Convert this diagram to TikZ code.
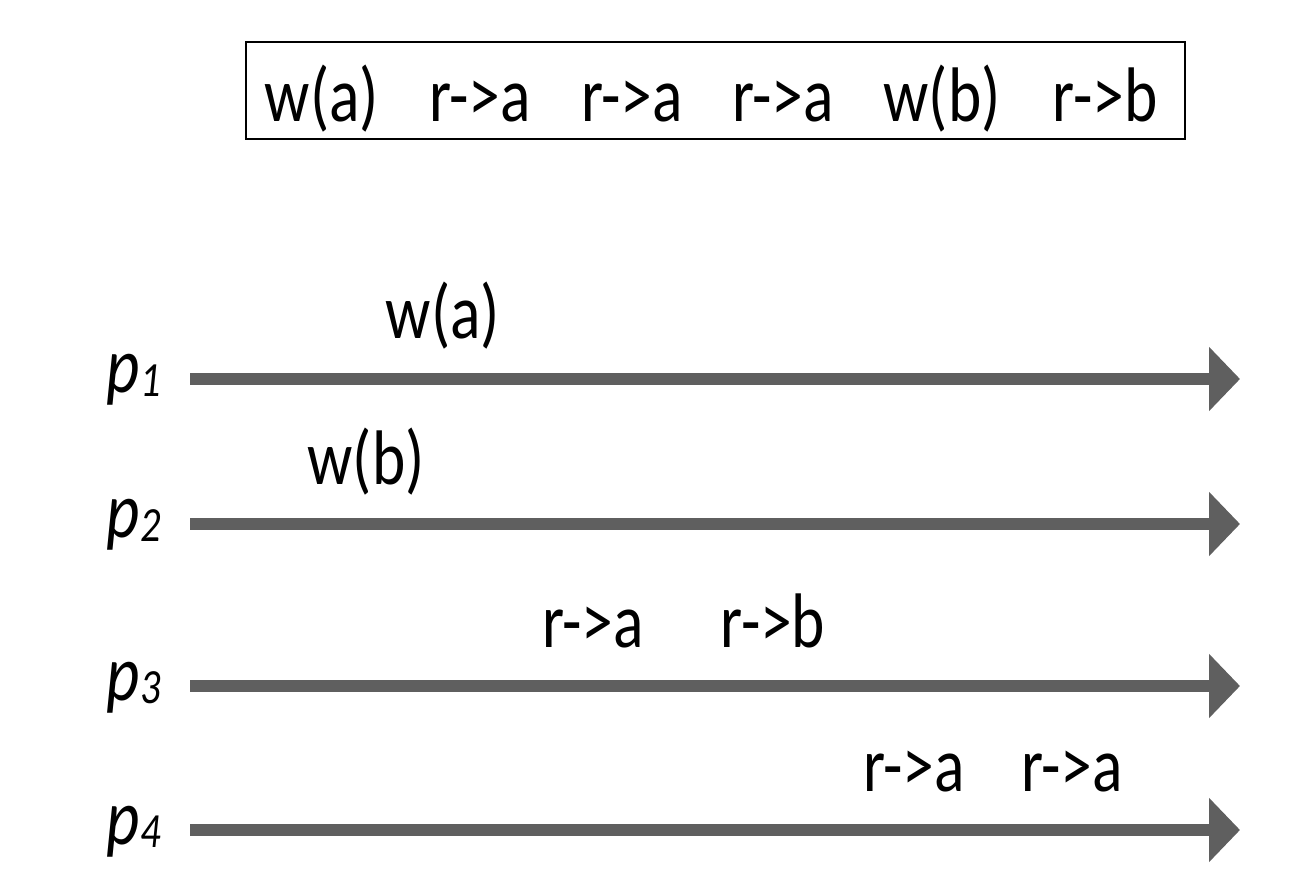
\documentclass[tikz,border=0pt]{standalone}
\usepackage{fontspec}
\setmainfont{Carlito}[FakeStretch=0.82]
\usepackage{tikz}
\usetikzlibrary{positioning,calc,arrows.meta}
\definecolor{timegray}{RGB}{95,95,95}

\newcommand{\procname}[1]{\textit{p}\raisebox{-0.1ex}{\fontsize{28}{30}\selectfont\itshape #1}}

\begin{document}
\begin{tikzpicture}[
	% Trục thời gian của mỗi tiến trình
	timeline/.style={
		draw=timegray, line width=6.8pt,
		-{Triangle[length=0.62cm, width=1.25cm]}
	},
	% Nhãn tiến trình p_i
	plabel/.style={
		anchor=base east, inner sep=0pt, font=\fontsize{45}{47}\selectfont
	},
	% Các thao tác đọc/ghi
	op/.style={
		anchor=base, inner sep=0pt, font=\fontsize{44}{46}\selectfont
	}
	]
	
	\useasboundingbox (0,0) rectangle (26.2,17.8);
	
	% --- 1. THỨ TỰ TOÀN CỤC ---
	\node[draw=black, thick, minimum width=18.78cm, minimum height=1.94cm,
	inner sep=0pt] (seq) at (14.31, 15.99) {};
	\foreach \x/\txt [count=\i] in {6.44/w(a), 9.6/r->a, 12.64/r->a,
		15.66/r->a, 18.84/w(b), 22.1/r->b} {
		\node[op] (s\i) at (\x, 15.36) {\txt};
	}
	
	% --- 2. CÁC TIẾN TRÌNH ---
	\foreach \y [count=\i] in {10.22, 7.32, 4.08, 1.2} {
		\coordinate (start\i) at (3.8, \y);
		\coordinate (end\i) at (24.8, \y);
		\draw[timeline] (start\i) -- (end\i);
		\node[plabel] (p\i) at (3.22, \y-0.28) {\procname{\i}};
	}
	
	% --- 3. THAO TÁC TRÊN TRỤC ---
	\node[op] (wa) at ($(start1)+(5.06,0.8)$) {w(a)};
	\node[op] (wb) at ($(start2)+(3.52,0.78)$) {w(b)};
	\node[op] (ra3) at ($(start3)+(8.06,0.78)$) {r->a};
	\node[op] (rb3) at ($(start3)+(11.66,0.78)$) {r->b};
	\node[op] (ra4) at ($(start4)+(14.48,0.78)$) {r->a};
	\node[op] (rb4) at ($(start4)+(17.64,0.78)$) {r->a};
\end{tikzpicture}
\end{document}
